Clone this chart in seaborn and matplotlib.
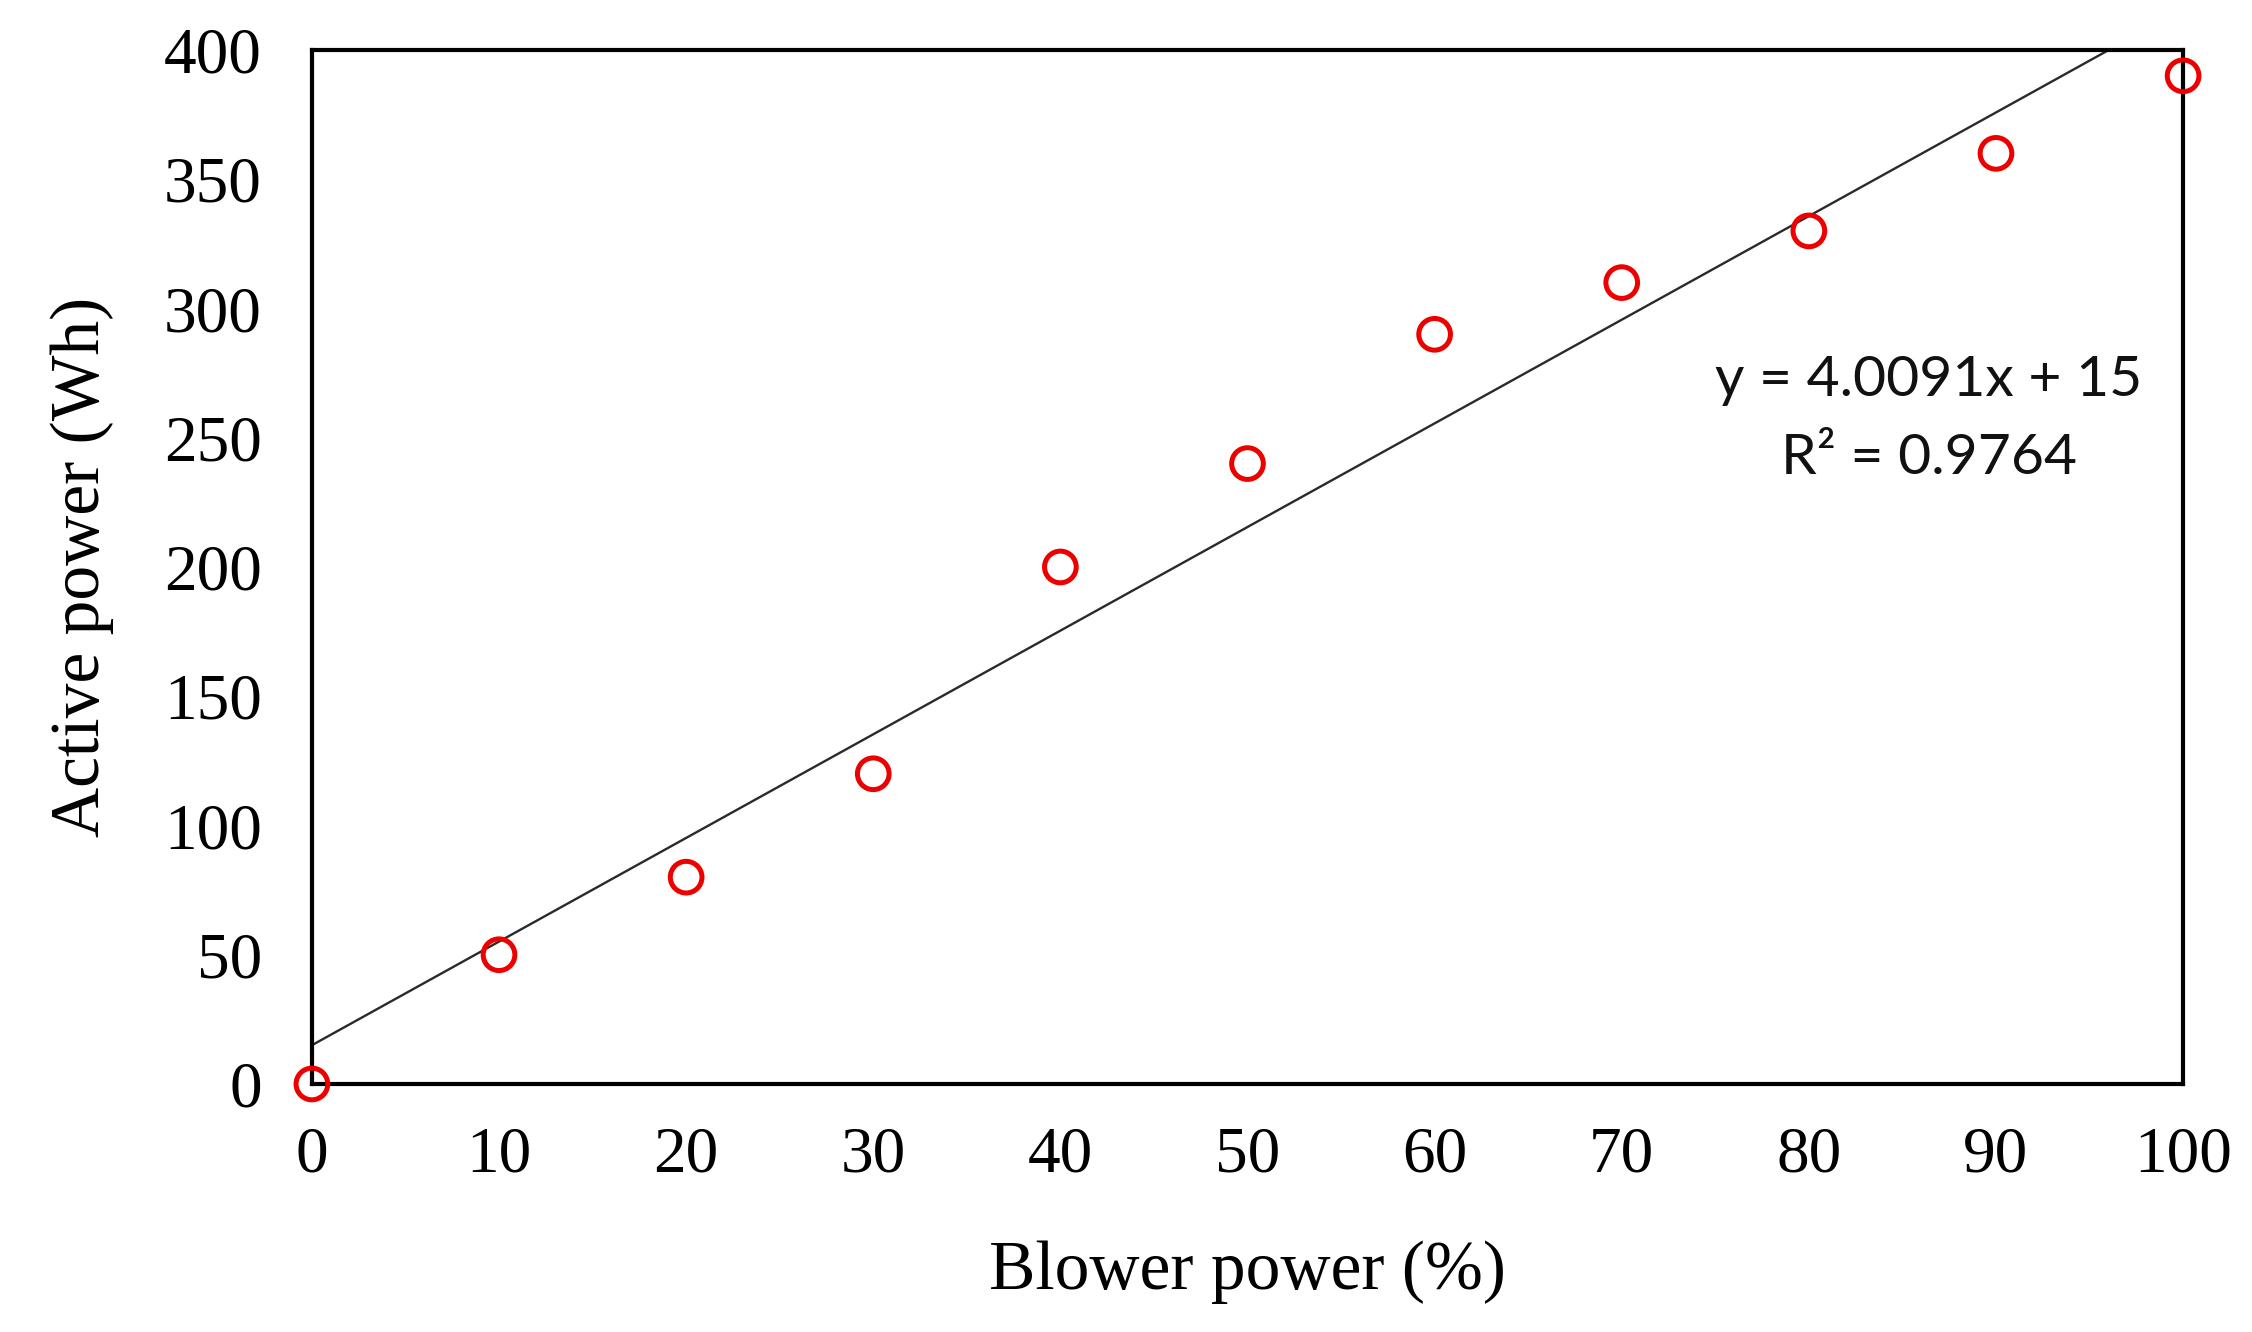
import numpy as np
import matplotlib
matplotlib.use("Agg")
import matplotlib.pyplot as plt
import seaborn as sns

# data
blower_power = [0, 10, 20, 30, 40, 50, 60, 70, 80, 90, 100]
active_power = [0, 50, 80, 120, 200, 240, 290, 310, 330, 360, 390]
x_ticks = [0, 10, 20, 30, 40, 50, 60, 70, 80, 90, 100]
y_ticks = [0, 50, 100, 150, 200, 250, 300, 350, 400]
eq_text = "y = 4.0091x + 15"
r2_text = "R² = 0.9764"

sns.set_theme(style="white")
plt.rcParams['font.family'] = ['Liberation Serif', 'DejaVu Serif']

fig = plt.figure(figsize=(22.52, 13.32), dpi=100)
ax = fig.add_axes([0.1385, 0.1862, 0.8309, 0.7763])
ax.set_xlim(0, 100)
ax.set_ylim(0, 400)

# linear trend line over the full x range
sns.regplot(x=blower_power, y=active_power, ax=ax, ci=None, scatter=False,
            truncate=False, line_kws={"color": "#2a2a2a", "lw": 1.7})

sns.scatterplot(x=blower_power, y=active_power, ax=ax, s=520, marker="o",
                facecolor="none", edgecolor="#ee0000", linewidth=3.6, zorder=5,
                clip_on=False)

ax.set_xlim(0, 100)
ax.set_ylim(0, 400)
ax.set_xticks(x_ticks)
ax.set_yticks(y_ticks)
ax.tick_params(axis="both", length=0, labelsize=47, colors="black")
ax.tick_params(axis="x", pad=30)
ax.tick_params(axis="y", pad=36)

for sp in ax.spines.values():
    sp.set_visible(True)
    sp.set_color("black")
    sp.set_linewidth(3)

ax.set_xlabel("Blower power (%)", fontsize=50, color="black", labelpad=40)
ax.set_ylabel("Active power (Wh)", fontsize=50, color="black", labelpad=36)

ax.text(86.4, 272, eq_text, ha="center", va="center", fontsize=41,
        family=["Lato", "DejaVu Sans"], color="#111111")
ax.text(86.4, 242, r2_text, ha="center", va="center", fontsize=41,
        family=["Lato", "DejaVu Sans"], color="#111111")

fig.savefig("out.png", dpi=100, facecolor="white")
